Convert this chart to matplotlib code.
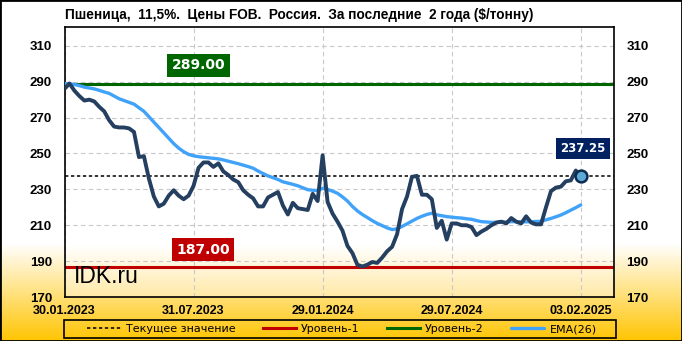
import numpy as np
import matplotlib
matplotlib.use("Agg")
import matplotlib.pyplot as plt
from matplotlib.patches import Rectangle

# ---------------- data ----------------
price = [286, 289, 285, 282, 279.5, 280, 279, 276, 273.5, 268.5,
         265, 264.5, 264.5, 264, 262, 248, 248.5, 236, 226, 220.5,
         222, 226.5, 229.5, 226.5, 224.5, 226.5, 232, 242, 245, 245,
         242.5, 244.5, 240, 238, 235.5, 234, 229.5, 227, 225, 220.5,
         220.5, 225.5, 227, 228.5, 221, 216, 222.5, 219.5, 219, 218.5,
         227.5, 223.5, 249, 223, 216.5, 212, 207, 198.5, 194.5, 188,
         187, 188, 189.5, 189, 192, 195.5, 198, 205, 219, 226,
         237, 237.5, 227, 227, 224.5, 208.5, 212.5, 202, 211, 211,
         210, 210, 209, 204.5, 206.5, 208, 210, 211.5, 212, 211,
         214, 212, 211, 215, 211.5, 210.5, 210.5, 220, 229, 231,
         231.5, 234.5, 235, 240.5, 237.25]

ema26 = [289.0, 288.8, 288.5, 287.8, 287.0, 286.5, 286.0, 285.2, 284.3, 283.5,
         282.0, 280.5, 279.5, 278.5, 277.5, 275.5, 273.5, 270.5, 267.5, 264.5,
         261.5, 258.5, 255.5, 253.0, 251.0, 249.5, 248.7, 248.2, 247.9, 247.6,
         247.3, 247.0, 246.4, 245.7, 245.0, 244.3, 243.5, 242.7, 241.8, 240.2,
         238.8, 237.5, 236.5, 235.5, 234.2, 233.5, 232.8, 232.0, 230.9, 229.8,
         229.5, 229.3, 230.6, 230.0, 229.0, 227.8, 225.8, 223.5, 220.5, 218.0,
         216.0, 214.3, 212.6, 211.0, 209.8, 208.5, 207.6, 208.0, 209.3, 210.8,
         212.3, 213.8, 215.0, 216.0, 216.7, 215.8, 215.3, 214.8, 214.5, 214.2,
         214.0, 213.6, 213.3, 212.6, 212.0, 211.8, 211.6, 211.6, 211.7, 211.8,
         212.0, 212.0, 211.9, 211.9, 212.0, 212.1, 212.2, 213.0, 213.8, 214.7,
         215.7, 217.0, 218.4, 219.8, 221.3]

level1 = 187.00
level2 = 289.00
current = 237.25

x_tick_pos = [0, 26, 52, 78, 104]
x_tick_labels = ["30.01.2023", "31.07.2023", "29.01.2024", "29.07.2024", "03.02.2025"]
y_ticks = [170, 190, 210, 230, 250, 270, 290, 310]

title = "Пшеница,  11,5%.  Цены FOB.  Россия.  За последние  2 года ($/тонну)"
legend_labels = ["Текущее значение", "Уровень-1", "Уровень-2", "EMA(26)"]

# ---------------- figure ----------------
W, H = 682, 341
fig = plt.figure(figsize=(W / 100, H / 100), dpi=100)

# figure gradient background
bg = fig.add_axes([0, 0, 1, 1], zorder=-10)
bg.axis("off")
ys = np.arange(H)
t = np.clip((ys - 243) / (H - 243), 0, 1)
img = np.stack([np.ones(H), 1 - (59 / 255) * t, 1 - t], axis=1)[:, None, :]
bg.imshow(img, aspect="auto", extent=[0, 1, 0, 1], origin="upper")
bg.set_xlim(0, 1)
bg.set_ylim(0, 1)

# plot area
ax_rect = [64.5 / W, 1 - 297 / H, 549.5 / W, 270 / H]
bg2 = fig.add_axes(ax_rect, zorder=-5)
bg2.axis("off")
ph = 270
yy = np.arange(ph)
t2 = np.clip((yy - 218) / (ph - 218), 0, 1)
img2 = np.stack([np.ones(ph), 1 - (22 / 255) * t2, 1 - (90 / 255) * t2], axis=1)[:, None, :]
bg2.imshow(img2, aspect="auto", extent=[0, 1, 0, 1], origin="upper")
bg2.set_xlim(0, 1)
bg2.set_ylim(0, 1)

ax = fig.add_axes(ax_rect)
ax.patch.set_alpha(0)

x = np.arange(len(price))

cur_line = ax.axhline(current, color="black", lw=1.1, ls=(0, (2.2, 1.7)), zorder=2,
                      label=legend_labels[0])
l1 = ax.axhline(level1, color="#C00000", lw=2.2, zorder=2, label=legend_labels[1])
l2 = ax.axhline(level2, color="#006600", lw=2.2, zorder=2, label=legend_labels[2])
ema_line, = ax.plot(x, ema26, color="#40A2F8", lw=2.4, zorder=3,
                    solid_capstyle="round", label=legend_labels[3])
ax.plot(x, price, color="#243F60", lw=2.8, zorder=4,
        solid_joinstyle="round", solid_capstyle="round")
ax.plot(x[-1], price[-1], "o", ms=8.5, mfc="#5AAAD5", mec="#0E2A50", mew=1.8, zorder=6)

ax.set_xlim(0, 110.7)
ax.set_ylim(170, 320.5)
ax.set_xticks(x_tick_pos, x_tick_labels)
ax.set_yticks(y_ticks)
ax.set_axisbelow(True)
ax.grid(True, color="#C8C8C8", ls=(0, (4, 3)), lw=0.8)
ax.tick_params(axis="both", length=0)
ax.tick_params(axis="y", labelleft=True, labelright=True, pad=9)
ax.tick_params(axis="x", pad=6)
for tk in ax.yaxis.get_major_ticks():
    for lab in (tk.label1, tk.label2):
        lab.set_fontfamily("Liberation Sans")
        lab.set_fontweight("bold")
        lab.set_fontsize(9.5)
for lab in ax.get_xticklabels():
    lab.set_fontfamily("Liberation Sans")
    lab.set_fontweight("bold")
    lab.set_fontsize(9)
for sp in ax.spines.values():
    sp.set_color("black")
    sp.set_linewidth(1.2)

# value boxes
ax.text(27.0, level2 + 10.1, f"{level2:.2f}", ha="center", va="center", color="white",
        fontsize=10, fontweight="bold", family="DejaVu Sans", zorder=7,
        bbox=dict(boxstyle="square,pad=0.33", fc="#006600", ec="none"))
ax.text(27.9, level1 + 9.3, f"{level1:.2f}", ha="center", va="center", color="white",
        fontsize=10, fontweight="bold", family="DejaVu Sans", zorder=7,
        bbox=dict(boxstyle="square,pad=0.33", fc="#C00000", ec="none"))
ax.text(104.4, current + 15.6, f"{current:.2f}", ha="center", va="center", color="white",
        fontsize=8.5, fontweight="bold", family="DejaVu Sans", zorder=7,
        bbox=dict(boxstyle="square,pad=0.35", fc="#002060", ec="none"))

ax.text(0.017, 0.052, "IDK.ru", transform=ax.transAxes, ha="left", va="baseline",
        fontsize=16.5, family="Liberation Sans", color="black", zorder=7)

# title
fig.text(65 / W, 1 - 15 / H, title, ha="left", va="center", fontsize=9.85, fontweight="bold",
         family=["Liberation Sans", "DejaVu Sans"])

# legend
fig.add_artist(Rectangle((64 / W, 1 - 338 / H), (616 - 64) / W, 18 / H,
                         transform=fig.transFigure, fill=False, ec="black", lw=1.2))
fig.legend(handles=[cur_line, l1, l2, ema_line], labels=legend_labels, loc="center",
           bbox_to_anchor=(342 / W, 1 - 329 / H), ncol=4, frameon=False,
           prop={"family": "DejaVu Sans", "size": 8}, handlelength=3.0,
           handletextpad=0.45, columnspacing=2.45, borderpad=0, borderaxespad=0)

# figure border
fig.add_artist(Rectangle((0, 0), 1, 1, transform=fig.transFigure, fill=False,
                         ec="black", lw=2))

fig.savefig("out.png", dpi=100)
